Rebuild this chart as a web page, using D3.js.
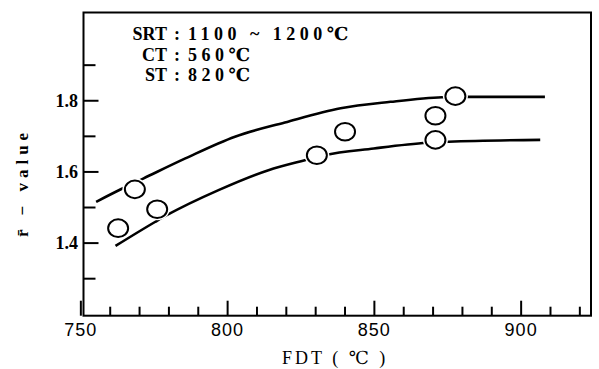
<!DOCTYPE html>
<html>
<head>
<meta charset="utf-8">
<script src="https://cdn.jsdelivr.net/npm/d3@7"></script>
<style>
  body { margin: 0; background: #fff; }
  svg { display: block; }
  .serif { font-family: "Liberation Serif", "DejaVu Serif", serif; }
  .sans { font-family: "Liberation Sans", Arial, sans-serif; }
</style>
</head>
<body>
<script>
// measured points (FDT, r-value)
const fdt = [762.7, 768.4, 776.0, 830.4, 840.0, 870.8, 870.8, 877.6];
const rValue = [1.442, 1.551, 1.495, 1.647, 1.713, 1.758, 1.690, 1.813];

// upper fitted curve
const upperX = [755.2, 763.8, 771.4, 785.6, 802.5, 819.5, 838.5, 855.5, 873.1, 877.6, 908.1];
const upperY = [1.516, 1.552, 1.582, 1.638, 1.699, 1.739, 1.779, 1.797, 1.810, 1.811, 1.811];

// lower fitted curve
const lowerX = [761.8, 775.4, 779.4, 796.9, 813.9, 826.3, 832.9, 849.8, 868.0, 875.3, 906.5];
const lowerY = [1.392, 1.460, 1.479, 1.549, 1.605, 1.633, 1.647, 1.666, 1.682, 1.685, 1.690];

const xTicks = [750, 800, 850, 900];
const xMinor = [760, 770, 780, 790, 810, 820, 830, 840, 860, 870, 880, 890, 910, 920];
const yTicks = [1.4, 1.6, 1.8];
const yMinor = [1.3, 1.5, 1.7, 1.9];

const notes = [
  { label: "SRT", value: "1100 ~ 1200℃" },
  { label: "CT", value: "560℃" },
  { label: "ST", value: "820℃" }
];

const w = 599, h = 369;
const padL = 83.5, padR = 591, padT = 12.5, padB = 315.7;

const svg = d3.select("body").append("svg")
  .attr("width", w)
  .attr("height", h);

const x = d3.scaleLinear().domain([750.9, 923.8]).range([padL, padR]);
const y = d3.scaleLinear().domain([1.196, 2.048]).range([padB, padT]);

// frame
svg.append("rect")
  .attr("x", padL).attr("y", padT)
  .attr("width", padR - padL).attr("height", padB - padT)
  .attr("fill", "none").attr("stroke", "#000").attr("stroke-width", 2);

// ticks pointing inward
const tickG = svg.append("g").attr("stroke", "#000").attr("stroke-width", 2);
tickG.selectAll(".xmaj").data(xTicks).enter().append("line")
  .attr("x1", d => x(d)).attr("x2", d => x(d))
  .attr("y1", padB).attr("y2", padB - 15);
tickG.selectAll(".xmin").data(xMinor).enter().append("line")
  .attr("x1", d => x(d)).attr("x2", d => x(d))
  .attr("y1", padB).attr("y2", padB - 9);
tickG.selectAll(".ymaj").data(yTicks).enter().append("line")
  .attr("x1", padL).attr("x2", padL + 15)
  .attr("y1", d => y(d)).attr("y2", d => y(d));
tickG.selectAll(".ymin").data(yMinor).enter().append("line")
  .attr("x1", padL).attr("x2", padL + 12)
  .attr("y1", d => y(d)).attr("y2", d => y(d));

// tick labels
svg.selectAll(".xlab").data(xTicks).enter().append("text")
  .attr("class", "sans")
  .attr("x", d => x(d)).attr("y", 336)
  .attr("text-anchor", "middle")
  .attr("font-size", 18)
  .attr("letter-spacing", 1)
  .text(d => d);

svg.selectAll(".ylab").data(yTicks).enter().append("text")
  .attr("class", "serif")
  .attr("x", 78).attr("y", d => y(d) + 6)
  .attr("text-anchor", "end")
  .attr("font-weight", "bold")
  .attr("font-size", 18)
  .text(d => d.toFixed(1));

// axis titles
svg.append("text")
  .attr("class", "serif")
  .attr("x", 282).attr("y", 364)
  .attr("font-size", 18)
  .attr("letter-spacing", 3)
  .text("FDT ( ℃ )");

svg.append("text")
  .attr("class", "serif")
  .attr("transform", "translate(28,237) rotate(-90)")
  .attr("font-size", 17)
  .attr("font-weight", "bold")
  .attr("letter-spacing", 5)
  .text("r\u0304 − value");

// annotation
const noteG = svg.append("g")
  .attr("class", "serif")
  .attr("font-weight", "bold")
  .attr("font-size", 18);
notes.forEach((n, i) => {
  const by = 40 + i * 20.5;
  noteG.append("text").attr("x", 167).attr("y", by)
    .attr("text-anchor", "end").text(n.label);
  noteG.append("text").attr("x", 177).attr("y", by)
    .attr("text-anchor", "middle").text(":");
  noteG.append("text").attr("x", 188).attr("y", by)
    .attr("letter-spacing", 4.5).text(n.value);
});

// curves
const line = d3.line()
  .x(d => x(d[0]))
  .y(d => y(d[1]))
  .curve(d3.curveMonotoneX);

[[upperX, upperY], [lowerX, lowerY]].forEach(([xs, ys]) => {
  svg.append("path")
    .datum(xs.map((v, i) => [v, ys[i]]))
    .attr("d", line)
    .attr("fill", "none")
    .attr("stroke", "#000")
    .attr("stroke-width", 2.6);
});

// points with white halo to break the curves
const pts = fdt.map((v, i) => [v, rValue[i]]);
svg.selectAll(".halo").data(pts).enter().append("ellipse")
  .attr("cx", d => x(d[0])).attr("cy", d => y(d[1]))
  .attr("rx", 12.5).attr("ry", 11)
  .attr("fill", "#fff");
svg.selectAll(".pt").data(pts).enter().append("ellipse")
  .attr("cx", d => x(d[0])).attr("cy", d => y(d[1]))
  .attr("rx", 10).attr("ry", 8.8)
  .attr("fill", "#fff")
  .attr("stroke", "#000")
  .attr("stroke-width", 2);
</script>
</body>
</html>
